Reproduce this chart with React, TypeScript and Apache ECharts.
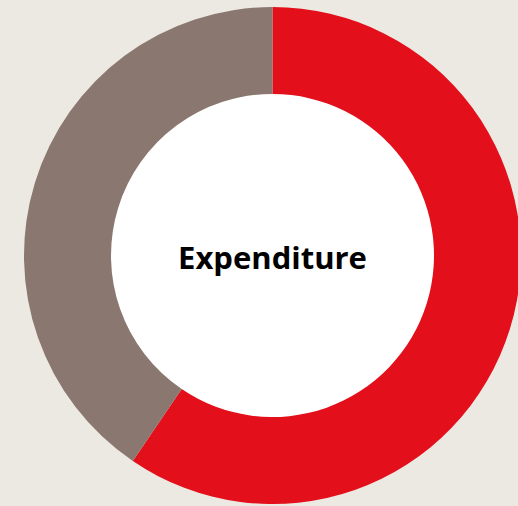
import React, { useEffect, useRef } from "react";
import * as echarts from "echarts";

const categories = ["Red share", "Grey share"];
const values = [59.5, 40.5];
const colors = ["#e30f1a", "#8a776f"];
const centerLabel = "Expenditure";

export default function App() {
  const ref = useRef<HTMLDivElement>(null);
  useEffect(() => {
    if (!ref.current) return;
    const chart = echarts.init(ref.current, undefined, { renderer: "svg" });
    chart.setOption({
      animation: false,
      backgroundColor: "#ece9e3",
      graphic: [
        {
          type: "circle",
          shape: { cx: 272.5, cy: 255.5, r: 162 },
          style: { fill: "#ffffff" },
          z: 1,
        },
        {
          type: "text",
          x: 272.5,
          y: 257,
          style: {
            text: centerLabel,
            x: 0,
            y: 0,
            fontFamily: "Open Sans",
            fontWeight: 700,
            fontSize: 31,
            fill: "#000",
            textAlign: "center",
            textVerticalAlign: "middle",
          },
          z: 10,
        },
      ],
      series: [
        {
          type: "pie",
          center: [272.5, 255.5],
          radius: [161.5, 248.5],
          startAngle: 90,
          clockwise: true,
          label: { show: false },
          labelLine: { show: false },
          emphasis: { disabled: true },
          itemStyle: { borderWidth: 0 },
          data: categories.map((name, i) => ({
            name,
            value: values[i],
            itemStyle: { color: colors[i] },
          })),
        },
      ],
    });
    return () => chart.dispose();
  }, []);
  return (
    <div
      ref={ref}
      style={{ position: "fixed", left: 0, top: 0, width: 518, height: 506 }}
    />
  );
}
